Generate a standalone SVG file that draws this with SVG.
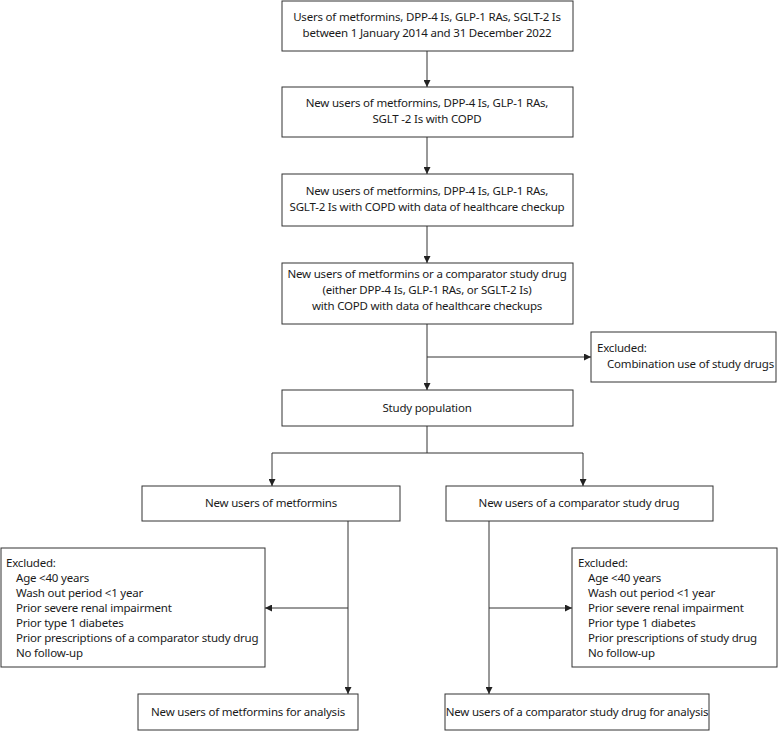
<svg xmlns="http://www.w3.org/2000/svg" width="778" height="731" viewBox="0 0 778 731">
<defs>
<marker id="ah" viewBox="0 0 10 10" refX="10" refY="5" markerWidth="7" markerHeight="7" markerUnits="userSpaceOnUse" orient="auto">
<path d="M0,0 L10,5 L0,10 z" fill="#222"/>
</marker>
</defs>
<style>
rect{fill:#fff;stroke:#333;stroke-width:1}
text{font-family:"Noto Sans","Open Sans",sans-serif;font-size:11.5px;letter-spacing:-0.2px;fill:#1a1a1a}
.c{text-anchor:middle}
#connectors path{fill:none;stroke:#333;stroke-width:1}
.a{marker-end:url(#ah)}
</style>
<rect x="0" y="0" width="778" height="731" style="fill:#fff;stroke:none"/>
<g id="n1"><rect x="282" y="1" width="291" height="50"/>
<text class="c" x="427" y="21">Users of metformins, DPP-4 Is, GLP-1 RAs, SGLT-2 Is</text>
<text class="c" x="427" y="37">between 1 January 2014 and 31 December 2022</text></g>
<g id="n2"><rect x="282" y="87" width="291" height="50"/>
<text class="c" x="427" y="107">New users of metformins, DPP-4 Is, GLP-1 RAs,</text>
<text class="c" x="427" y="123">SGLT -2 Is with COPD</text></g>
<g id="n3"><rect x="282" y="174" width="291" height="52"/>
<text class="c" x="427" y="195">New users of metformins, DPP-4 Is, GLP-1 RAs,</text>
<text class="c" x="427" y="211">SGLT-2 Is with COPD with data of healthcare checkup</text></g>
<g id="n4"><rect x="282" y="263" width="291" height="61"/>
<text class="c" x="427" y="278">New users of metformins or a comparator study drug</text>
<text class="c" x="427" y="294">(either DPP-4 Is, GLP-1 RAs, or SGLT-2 Is)</text>
<text class="c" x="427" y="310">with COPD with data of healthcare checkups</text></g>
<g id="ex1"><rect x="591" y="332" width="185" height="50"/>
<text x="597" y="352">Excluded:</text>
<text x="607" y="368">Combination use of study drugs</text></g>
<g id="n5"><rect x="282" y="390" width="291" height="36"/>
<text class="c" x="427" y="412">Study population</text></g>
<g id="n6"><rect x="142" y="486" width="258" height="35"/>
<text class="c" x="271" y="507">New users of metformins</text></g>
<g id="n7"><rect x="446" y="486" width="267" height="35"/>
<text class="c" x="579" y="507">New users of a comparator study drug</text></g>
<g id="ex2"><rect x="1" y="548" width="264" height="119"/>
<text x="6" y="567">Excluded:</text>
<text x="16" y="582">Age &lt;40 years</text>
<text x="16" y="597">Wash out period &lt;1 year</text>
<text x="16" y="612">Prior severe renal impairment</text>
<text x="16" y="627">Prior type 1 diabetes</text>
<text x="16" y="642">Prior prescriptions of a comparator study drug</text>
<text x="16" y="657">No follow-up</text></g>
<g id="ex3"><rect x="572" y="548" width="205" height="119"/>
<text x="578" y="567">Excluded:</text>
<text x="588" y="582">Age &lt;40 years</text>
<text x="588" y="597">Wash out period &lt;1 year</text>
<text x="588" y="612">Prior severe renal impairment</text>
<text x="588" y="627">Prior type 1 diabetes</text>
<text x="588" y="642">Prior prescriptions of study drug</text>
<text x="588" y="657">No follow-up</text></g>
<g id="n8"><rect x="138" y="694" width="220" height="36"/>
<text class="c" x="248" y="716">New users of metformins for analysis</text></g>
<g id="n9"><rect x="445" y="694" width="264" height="36"/>
<text class="c" x="577" y="716">New users of a comparator study drug for analysis</text></g>
<g id="connectors">
<path class="a" d="M427,51 V87"/>
<path class="a" d="M427,137 V174"/>
<path class="a" d="M427,226 V263"/>
<path class="a" d="M427,324 V390"/>
<path class="a" d="M427,357 H591"/>
<path d="M427,426 V453"/>
<path class="a" d="M427,453 H272 V486"/>
<path class="a" d="M427,453 H583 V486"/>
<path class="a" d="M348,521 V694"/>
<path class="a" d="M348,608 H265"/>
<path class="a" d="M489,521 V694"/>
<path class="a" d="M489,608 H572"/>
</g>
</svg>
